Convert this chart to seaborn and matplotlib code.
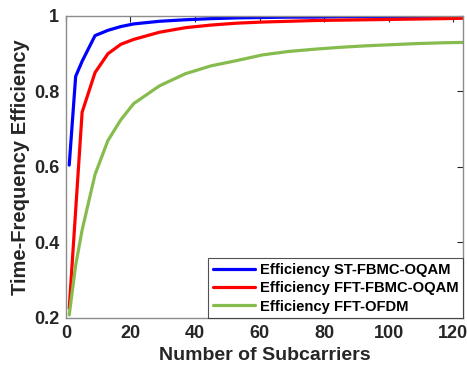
import matplotlib
matplotlib.use("Agg")
import matplotlib.pyplot as plt
import matplotlib.ticker as mticker
import pandas as pd
import seaborn as sns

# Number of subcarriers at which efficiency was evaluated
subcarriers = [1, 3, 5, 9, 13, 17, 21, 29, 37, 45, 53, 61, 69, 77, 85, 93, 101, 109, 117, 123]

eff_st_fbmc = [0.605, 0.840, 0.880, 0.948, 0.962, 0.972, 0.979, 0.986, 0.990, 0.993, 0.995,
               0.996, 0.997, 0.997, 0.998, 0.998, 0.998, 0.999, 0.999, 0.999]
eff_fft_fbmc = [0.226, 0.485, 0.745, 0.850, 0.900, 0.925, 0.938, 0.957, 0.969, 0.976, 0.981,
                0.984, 0.986, 0.988, 0.989, 0.990, 0.991, 0.992, 0.993, 0.994]
eff_fft_ofdm = [0.208, 0.340, 0.433, 0.580, 0.670, 0.725, 0.768, 0.815, 0.847, 0.868, 0.882,
                0.897, 0.906, 0.912, 0.917, 0.921, 0.924, 0.927, 0.929, 0.930]

series_names = ["Efficiency ST-FBMC-OQAM", "Efficiency FFT-FBMC-OQAM", "Efficiency FFT-OFDM"]
series_colors = ["#0000FF", "#FF0000", "#86BC4E"]

x_ticks = [0, 20, 40, 60, 80, 100, 120]
y_ticks = [0.2, 0.4, 0.6, 0.8, 1.0]

frames = []
for name, vals in zip(series_names, [eff_st_fbmc, eff_fft_fbmc, eff_fft_ofdm]):
    frames.append(pd.DataFrame({"N": subcarriers, "eff": vals, "series": name}))
df = pd.concat(frames, ignore_index=True)

sns.set_theme(style="white")
plt.rcParams["font.family"] = ["Liberation Sans", "DejaVu Sans"]
plt.rcParams["font.weight"] = "bold"

fig = plt.figure(figsize=(4.67, 3.71), dpi=100)
ax = fig.add_axes([0.1413, 0.1429, 0.8495, 0.8140])

sns.lineplot(data=df, x="N", y="eff", hue="series", hue_order=series_names,
             palette=series_colors, linewidth=2.3, ax=ax, legend=True)

ax.set_xlim(0, 123)
ax.set_ylim(0.2, 1.0)
ax.set_xticks(x_ticks)
ax.set_yticks(y_ticks)
ax.yaxis.set_major_formatter(mticker.FormatStrFormatter("%g"))

dark = "#262626"
ax.tick_params(axis="both", which="major", direction="in", length=4, width=0.8,
               top=True, right=True, labelsize=13, colors=dark, pad=5)
for lab in ax.get_xticklabels() + ax.get_yticklabels():
    lab.set_fontweight("bold")
for sp in ax.spines.values():
    sp.set_color("#8c8c8c")
    sp.set_linewidth(1.0)

ax.set_xlabel("Number of Subcarriers", fontsize=14, fontweight="bold", color=dark, labelpad=4)
ax.set_ylabel("Time-Frequency Efficiency", fontsize=14.5, fontweight="bold", color=dark, labelpad=3)

leg = ax.legend(loc="lower right", borderaxespad=0.0, fontsize=10.6, frameon=True,
                fancybox=False, handlelength=2.9, handletextpad=0.3, labelspacing=0.3,
                borderpad=0.3)
leg.get_frame().set_edgecolor("#262626")
leg.get_frame().set_linewidth(0.8)
for t in leg.get_texts():
    t.set_fontweight("bold")
    t.set_color("#000000")
for h in leg.get_lines():
    h.set_linewidth(2.3)

fig.savefig("out.png", dpi=100, facecolor="white")
